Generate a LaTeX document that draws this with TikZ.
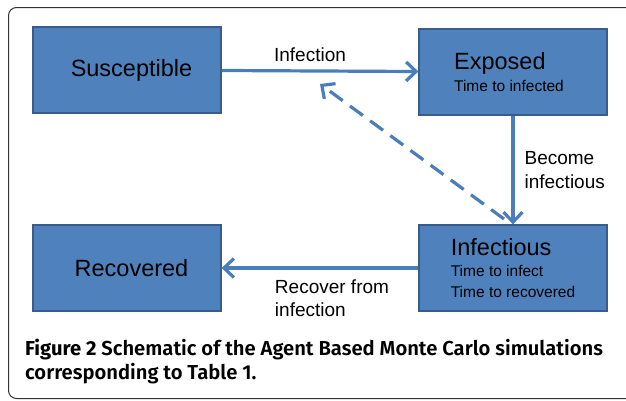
\documentclass[tikz,border=0pt]{standalone}
\usepackage{fontspec}
\setmainfont{Liberation Sans}
\newfontfamily\capfont{Fira Sans SemiBold}[BoldFont={Fira Sans Bold}]
\usepackage{tikz}
\usetikzlibrary{arrows.meta}
\usetikzlibrary{positioning}
\definecolor{boxblue}{HTML}{4F81BD}
\definecolor{boxedge}{HTML}{385D8A}
\definecolor{flowblue}{HTML}{4A7EBB}
\newcommand{\bigtxt}{\fontsize{23.5}{20.5}\selectfont}
\newcommand{\smalltxt}{\fontsize{15.5}{20.5}\selectfont}
\tikzset{
  statebox/.style={draw=boxedge, fill=boxblue, line width=1.2pt, minimum width=188pt, minimum height=86pt, inner sep=0pt, align=left, font=\smalltxt},
  flow/.style={draw=flowblue, line width=3.2pt, -{Straight Barb[length=10pt,width=19pt,line width=3.2pt]}},
  backflow/.style={flow, dash pattern=on 16pt off 9pt},
  lbl/.style={font=\fontsize{19}{23.5}\selectfont, inner sep=0pt, align=left}
}

\begin{document}
\begin{tikzpicture}[x=1pt, y=-1pt]
        \useasboundingbox (0,0) rectangle (626,400);
        \clip (0,0) rectangle (626,400);
        \draw[black!80, line width=1pt, rounded corners=8pt] (8.5,7.5) rectangle (660,398.5);

        % states
        \node[statebox] (sus) at (127,70) {\hspace{9pt}\bigtxt Susceptible};
        \node[statebox] (exp) at (513,72) {\hspace{-8pt}\bigtxt Exposed\\[1.5pt]\hspace{-8pt}\smalltxt Time to infected};
        \node[statebox] (rec) at (127,268) {\hspace{9pt}\bigtxt Recovered};
        \node[statebox] (inf) at (513,268) {\bigtxt Infectious\\[0.5pt]\smalltxt Time to infect\\\smalltxt Time to recovered};

        % transitions
        \draw[flow] (sus) -- node[lbl, above=8pt, xshift=-10pt] (infection) {Infection} (exp);
        \draw[flow] (exp) -- node[lbl, right=10pt] (become) {Become\\infectious} (inf);
        \draw[flow] (inf) -- node[lbl, below=10pt, xshift=12pt] (recover) {Recover from\\infection} (rec);

        \coordinate (dstart) at (504,219);
        \coordinate (dtip) at (320,84);
        \draw[backflow] (dstart) -- (dtip);

        \node[anchor=north west, inner sep=0pt, align=left, font=\capfont\fontsize{20.2}{24}\selectfont] (caption) at (25,339)
          {\textbf{Figure 2} Schematic of the Agent Based Monte Carlo simulations\\corresponding to Table 1.};
\end{tikzpicture}
\end{document}
